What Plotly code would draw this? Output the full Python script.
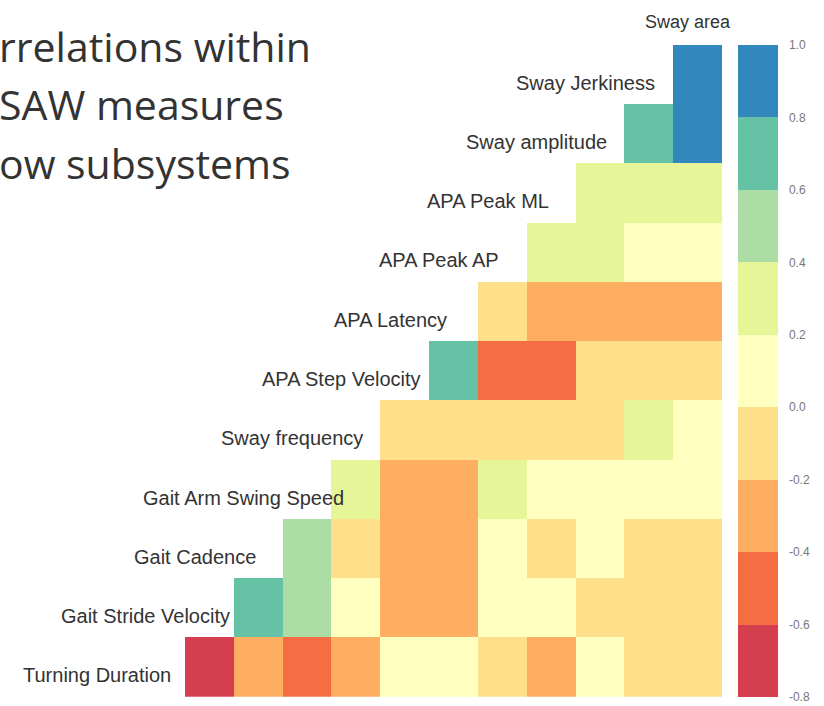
import plotly.graph_objects as go

# Measures, top row to bottom row (columns run right-to-left over the same list)
measures = [
    "Sway area", "Sway Jerkiness", "Sway amplitude", "APA Peak ML",
    "APA Peak AP", "APA Latency", "APA Step Velocity", "Sway frequency",
    "Gait Arm Swing Speed", "Gait Cadence", "Gait Stride Velocity",
    "Turning Duration",
]

# Lower-triangle correlations: row i holds its i values, listed left to right
corr_sway_jerkiness = [0.92]
corr_sway_amplitude = [0.71, 0.88]
corr_apa_peak_ml = [0.27, 0.31, 0.24]
corr_apa_peak_ap = [0.29, 0.26, 0.12, 0.08]
corr_apa_latency = [-0.12, -0.33, -0.31, -0.28, -0.35]
corr_apa_step_velocity = [0.68, -0.52, -0.47, -0.08, -0.13, -0.11]
corr_sway_frequency = [-0.14, -0.09, -0.12, -0.06, -0.15, 0.22, 0.11]
corr_gait_arm_swing = [0.26, -0.32, -0.28, 0.21, 0.09, 0.13, 0.06, 0.11]
corr_gait_cadence = [0.52, -0.04, -0.34, -0.27, 0.07, -0.11, 0.04, -0.13, -0.16]
corr_gait_stride_vel = [0.69, 0.47, 0.08, -0.31, -0.36, 0.05, 0.12, -0.09, -0.14, -0.12]
corr_turning_duration = [-0.71, -0.29, -0.46, -0.24, 0.07, 0.13, -0.07, -0.26, 0.03, -0.12, -0.18]

rows = [
    [], corr_sway_jerkiness, corr_sway_amplitude, corr_apa_peak_ml,
    corr_apa_peak_ap, corr_apa_latency, corr_apa_step_velocity,
    corr_sway_frequency, corr_gait_arm_swing, corr_gait_cadence,
    corr_gait_stride_vel, corr_turning_duration,
]

colorbar_ticks = [1.0, 0.8, 0.6, 0.4, 0.2, 0.0, -0.2, -0.4, -0.6, -0.8]
colorbar_ticktext = ["1.0", "0.8", "0.6", "0.4", "0.2", "0.0", "-0.2", "-0.4", "-0.6", "-0.8"]

title_lines = ["rrelations within", "SAW measures", "ow subsystems"]

spectral9 = ["#d53e4f", "#f46d43", "#fdae61", "#fee08b", "#ffffbf",
             "#e6f598", "#abdda4", "#66c2a5", "#3288bd"]

ncols = len(measures) - 1
nrows_shown = len(measures) - 1
z = []
for i, vals in enumerate(rows):
    z.append([None] * (ncols - len(vals)) + list(vals))

n = len(spectral9)
colorscale = []
for k, c in enumerate(spectral9):
    colorscale.append([k / n, c])
    colorscale.append([(k + 1) / n, c])

W, H = 824, 706
ML, MR, MT, MB = 185, 102, 45, 9
plot_w = W - ML - MR
plot_h = H - MT - MB

fig = go.Figure(go.Heatmap(
    z=z,
    x=list(range(ncols)),
    y=list(range(len(measures))),
    colorscale=colorscale,
    zmin=-0.8, zmax=1.0,
    xgap=0, ygap=0,
    hoverongaps=False,
    colorbar=dict(
        thickness=40, len=1.0, lenmode="fraction",
        x=(738 - ML) / plot_w, xanchor="left", xpad=0, y=0.5, yanchor="middle", ypad=0,
        outlinewidth=0,
        tickvals=colorbar_ticks, ticktext=colorbar_ticktext,
        ticks="outside", ticklen=9, tickcolor="rgba(0,0,0,0)",
        tickfont=dict(family="Liberation Sans, Arial", size=12, color="#777777"),
    ),
))


def xpaper(xd):
    return (xd + 0.5) / ncols


def ypaper(yd):
    return 1 - (yd - 0.5) / nrows_shown


# Staircase labels, one per row
annotations = []
for i, name in enumerate(measures):
    start = ncols - len(rows[i])
    if i == 0:
        xc, ys, fs = ncols - 1 - 0.2, -7, 18
    else:
        xc, ys, fs = start - 0.5 - 1.8, -8, 20
    annotations.append(dict(
        x=xpaper(xc), y=ypaper(i), xref="paper", yref="paper", text=name,
        showarrow=False, xanchor="center", yanchor="middle", yshift=ys,
        font=dict(family="Liberation Sans, Arial", size=fs, color="#333333"),
    ))

for k, line in enumerate(title_lines):
    annotations.append(dict(
        x=(0 - ML) / plot_w, y=1 - (46 + 58.5 * k - MT) / plot_h,
        xref="paper", yref="paper", text=line, showarrow=False,
        xanchor="left", yanchor="middle", xshift=-2, borderpad=0,
        font=dict(family="Open Sans", size=41, color="#333333"),
    ))

fig.update_layout(
    width=W, height=H,
    margin=dict(l=ML, r=MR, t=MT, b=MB),
    paper_bgcolor="white", plot_bgcolor="white",
    xaxis=dict(range=[-0.5, ncols - 0.5], visible=False, fixedrange=True),
    yaxis=dict(range=[len(measures) - 0.5, 0.5], visible=False, fixedrange=True),
    annotations=annotations,
    showlegend=False,
)

fig.write_html("out.html")
